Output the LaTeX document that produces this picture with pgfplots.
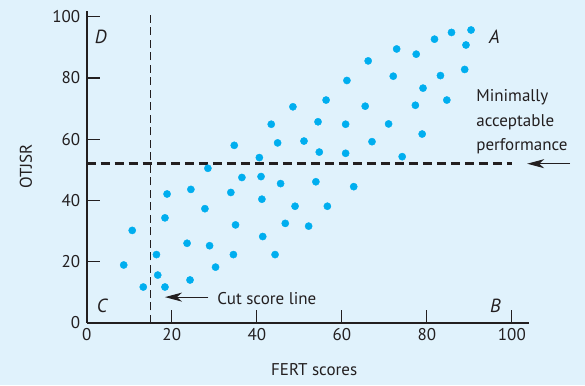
\documentclass[border=0pt]{standalone}
\usepackage{fontspec}
\setmainfont{PT Sans}
\usepackage{pgfplots}
\pgfplotsset{compat=1.18}
\usetikzlibrary{backgrounds,arrows.meta}
\definecolor{bgblue}{RGB}{224,242,252}
\definecolor{dotblue}{RGB}{0,174,239}
\definecolor{ink}{RGB}{35,31,32}

\pgfplotstableread{
x y
48.5 70.6
43.4 64.9
44.9 58.8
34.7 58.0
40.6 54.0
28.5 50.5
90.4 95.7
85.8 94.9
81.8 92.7
89.2 90.8
72.9 89.5
77.5 87.8
66.2 85.6
88.9 82.8
83.2 80.8
72.1 80.6
61.2 79.2
79.1 76.7
56.3 72.8
84.7 72.8
65.5 70.8
77.3 71.1
54.4 65.7
60.9 64.9
71.0 65.0
78.9 61.7
51.1 59.4
67.1 59.2
54.7 55.8
60.9 55.4
74.2 54.3
36.5 47.5
41.0 47.8
45.6 45.5
18.9 42.1
24.5 43.6
33.9 42.6
41.2 40.4
49.0 38.1
27.8 37.3
18.4 34.3
10.7 30.2
35.0 32.0
46.7 32.5
23.6 26.0
28.9 25.2
41.4 28.2
16.4 22.3
34.5 22.3
44.3 22.3
8.7 18.9
30.3 18.2
16.7 15.6
24.3 14.0
13.3 11.7
18.4 11.7
53.9 46.1
62.8 44.5
56.6 38.1
52.2 31.6
}\scores

\begin{document}
\begin{tikzpicture}[font=\fontsize{17}{20}\selectfont, text=ink]
\begin{axis}[
    scale only axis,
    width=442pt, height=312pt,
    xmin=0, xmax=104, ymin=0, ymax=102,
    axis x line*=bottom, axis y line*=left,
    axis line style={ink, line width=1.6pt},
    xtick={0,20,...,100}, ytick={0,20,...,100},
    tick align=inside,
    major tick length=13pt,
    tick style={ink, line width=1.2pt},
    ticklabel style={font=\fontsize{17}{20}\selectfont, text=ink},
    yticklabel style={xshift=-3pt},
    xticklabel style={yshift=-2pt},
    /pgf/number format/assume math mode=true,
    clip=false,
]
\coordinate (bl) at (axis cs:-20.4,-20.4);
\coordinate (tr) at (axis cs:117.2,105.5);

% cut score and minimally acceptable performance
\addplot[ink, line width=2.8pt, dash pattern=on 9pt off 5pt] coordinates {(0,52) (100,52)};
\addplot[ink, line width=1.2pt, dash pattern=on 8pt off 4.5pt] coordinates {(15,0) (15,102)};

\addplot[only marks, mark=*, mark size=3.6pt, color=dotblue] table {\scores};

\draw[ink, line width=1.2pt, -{Stealth[length=17pt, width=9pt, inset=5pt]}]
    (axis cs:113.7,52) -- (axis cs:103.6,52);
\draw[ink, line width=1.2pt, -{Stealth[length=17pt, width=9pt, inset=5pt]}]
    (axis cs:28.6,8.4) -- (axis cs:18.4,8.4);

\node[anchor=base west, inner sep=0] at (axis cs:30.7,5.9) {Cut score line};
\node[anchor=base west, inner sep=0] at (axis cs:91.6,72.2) {Minimally};
\node[anchor=base west, inner sep=0] at (axis cs:91.6,64.3) {acceptable};
\node[anchor=base west, inner sep=0] at (axis cs:91.6,56.4) {performance};

\node[font=\fontsize{19}{22}\selectfont\itshape] at (axis cs:3.3,93.5) {D};
\node[font=\fontsize{19}{22}\selectfont\itshape] at (axis cs:95.9,93.5) {A};
\node[font=\fontsize{19}{22}\selectfont\itshape] at (axis cs:3.6,5.5) {C};
\node[font=\fontsize{19}{22}\selectfont\itshape] at (axis cs:96.1,5.5) {B};

\node at (axis cs:53.5,-15.4) {FERT scores};
\node[rotate=90] at (axis cs:-14.3,51.2) {OTJSR};
\end{axis}
\begin{scope}[on background layer]
\fill[bgblue] (bl) rectangle (tr);
\end{scope}
\end{tikzpicture}
\end{document}
